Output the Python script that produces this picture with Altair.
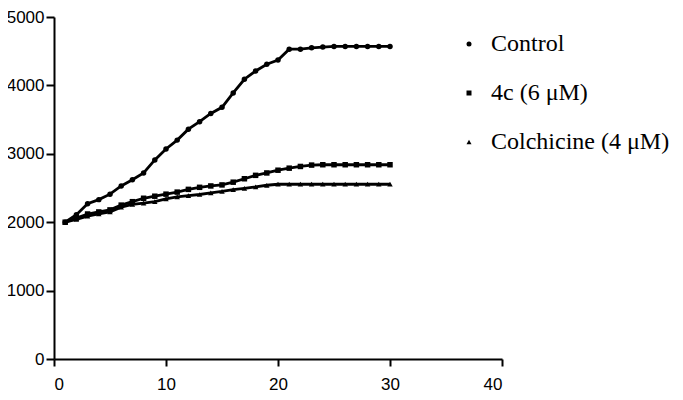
import altair as alt
import pandas as pd

times = list(range(1, 31))
series_names = ["Control", "4c (6 μM)", "Colchicine (4 μM)"]
control = [2000, 2110, 2270, 2330, 2410, 2530, 2620, 2720, 2910, 3070,
           3200, 3360, 3470, 3590, 3680, 3890, 4090, 4210, 4310, 4370,
           4530, 4530, 4550, 4560, 4570, 4570, 4570, 4570, 4570, 4570]
c4 = [2000, 2060, 2120, 2150, 2180, 2250, 2300, 2350, 2380, 2410,
      2440, 2480, 2510, 2530, 2545, 2585, 2635, 2685, 2720, 2760,
      2790, 2815, 2835, 2840, 2840, 2840, 2840, 2840, 2840, 2840]
colch = [2000, 2040, 2090, 2120, 2150, 2220, 2260, 2280, 2300, 2340,
         2370, 2390, 2405, 2430, 2450, 2475, 2495, 2515, 2540, 2555,
         2555, 2555, 2555, 2555, 2555, 2555, 2555, 2555, 2555, 2555]
x_ticks = [0, 10, 20, 30, 40]
y_ticks = [0, 1000, 2000, 3000, 4000, 5000]

rows = []
for name, vals in zip(series_names, [control, c4, colch]):
    for t, v in zip(times, vals):
        rows.append({"t": t, "v": v, "series": name})
df = pd.DataFrame(rows)

x = alt.X("t:Q", scale=alt.Scale(domain=[0, 40], nice=False),
          axis=alt.Axis(values=x_ticks, title=None, grid=False, tickSize=7,
                        labelPadding=10, format="d"))
y = alt.Y("v:Q", scale=alt.Scale(domain=[0, 5000], nice=False),
          axis=alt.Axis(values=y_ticks, title=None, grid=False, tickSize=8,
                        labelPadding=2, format="d"))

lines = alt.Chart(df).mark_line(color="black", strokeWidth=2.8).encode(
    x=x, y=y, detail="series:N")

points = alt.Chart(df).mark_point(filled=True, color="black", opacity=1, size=30).encode(
    x=x, y=y,
    shape=alt.Shape("series:N", sort=series_names,
                    scale=alt.Scale(domain=series_names,
                                    range=["circle", "square", "triangle-up"]),
                    legend=alt.Legend(title=None, orient="none", legendX=403, legendY=15,
                                      labelFont="Liberation Serif", labelFontSize=24,
                                      labelColor="black", symbolFillColor="black",
                                      symbolStrokeColor="black", symbolSize=25,
                                      rowPadding=25, labelOffset=10, padding=0,
                                      labelLimit=0)))

chart = alt.layer(lines, points).properties(
    width=448, height=342,
    autosize=alt.AutoSizeParams(type="none"),
    padding={"left": 46, "top": 9, "right": 173, "bottom": 33},
).configure_view(stroke=None).configure_axis(
    domainColor="black", domainWidth=2, tickColor="black", tickWidth=2,
    labelFont="Liberation Sans", labelFontSize=17, labelColor="black",
)

chart.save("out.html", embed_options={"renderer": "svg", "actions": False})
